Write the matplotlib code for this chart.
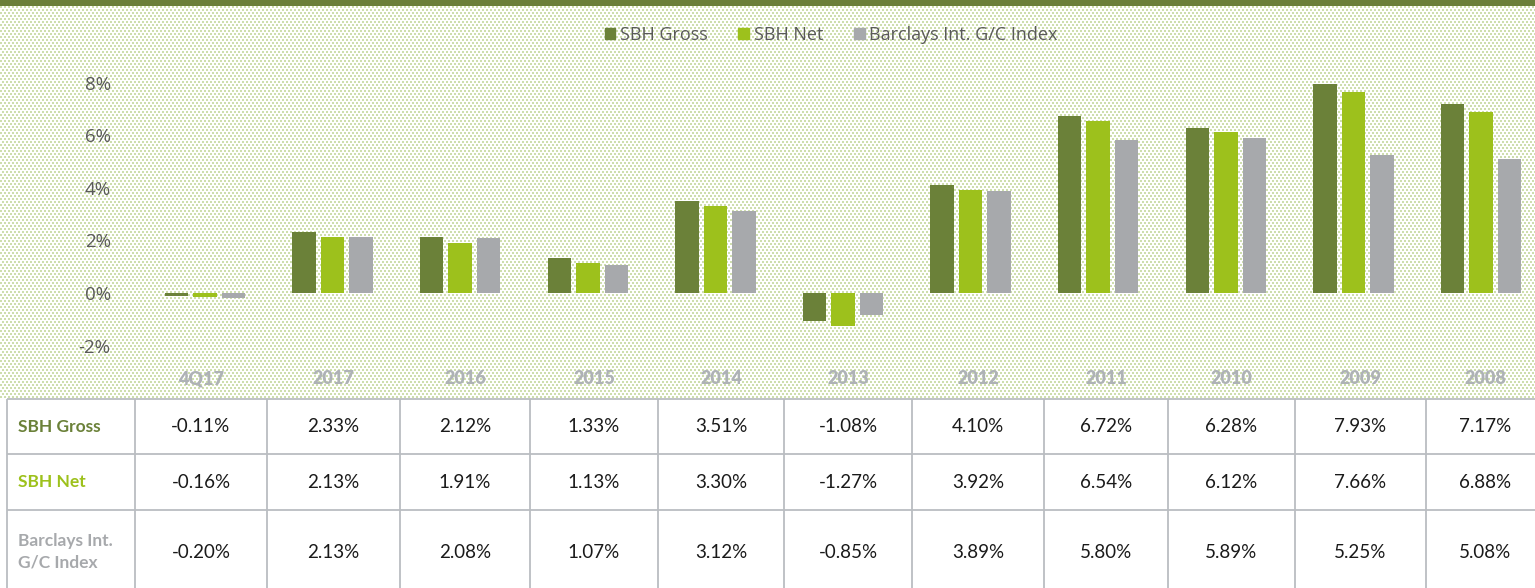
import numpy as np
import matplotlib
matplotlib.use("Agg")
import matplotlib.pyplot as plt
from matplotlib.patches import Rectangle, Patch

# ---------------- data ----------------
categories = ["4Q17", "2017", "2016", "2015", "2014", "2013", "2012", "2011", "2010", "2009", "2008"]
sbh_gross = [-0.11, 2.33, 2.12, 1.33, 3.51, -1.08, 4.10, 6.72, 6.28, 7.93, 7.17]
sbh_net = [-0.16, 2.13, 1.91, 1.13, 3.30, -1.27, 3.92, 6.54, 6.12, 7.66, 6.88]
barclays = [-0.20, 2.13, 2.08, 1.07, 3.12, -0.85, 3.89, 5.80, 5.89, 5.25, 5.08]
series_names = ["SBH Gross", "SBH Net", "Barclays Int. G/C Index"]
row_labels = ["SBH Gross", "SBH Net", "Barclays Int.\nG/C Index"]
yticks = [-2, 0, 2, 4, 6, 8]

# ---------------- style ----------------
C_GROSS = "#6b8139"
C_NET = "#9dc11c"
C_IDX = "#a7a9ac"
C_TEXT = "#595959"
C_GRID = "#babdc1"

W, H = 1535, 588
DPI = 100
fig = plt.figure(figsize=(W / DPI, H / DPI), dpi=DPI)
fig.patch.set_facecolor("white")

# dotted background (texture)
yy, xx = np.mgrid[0:H, 0:W]
ym = yy % 6
xm = xx % 4
dots = ((ym < 2) & (xm < 2)) | (((ym == 3) | (ym == 4)) & (xm >= 2))
img = np.ones((H, W, 3))
dot_col = np.array([206, 222, 174]) / 255.0
img[dots] = dot_col
img[398:, :, :] = 1.0        # table area is white
img[:6, :, :] = np.array([0x6b, 0x7f, 0x3a]) / 255.0  # top band
fig.figimage(img, xo=0, yo=0, origin="upper", zorder=0)

# overlay axes in pixel coordinates for table & labels
ov = fig.add_axes([0, 0, 1, 1], zorder=1)
ov.set_xlim(0, W)
ov.set_ylim(H, 0)
ov.axis("off")
ov.patch.set_alpha(0)

# ---------------- chart ----------------
zero_px = 293.0
px_per_pct = 26.3
ymin, ymax = -3.0, 9.0
top_px = zero_px - ymax * px_per_pct
bot_px = zero_px - ymin * px_per_pct
group_c0 = 205.0
group_step = 127.6
left_px = group_c0 - 0.5 * group_step
xmax_data = (W - group_c0) / group_step

ax = fig.add_axes([left_px / W, 1 - bot_px / H, (W - left_px) / W, (bot_px - top_px) / H], zorder=2)
ax.patch.set_alpha(0)
x = np.arange(len(categories))
bw = 23.5 / group_step
off = 28.5 / group_step
ax.bar(x - off, sbh_gross, width=bw, color=C_GROSS, label=series_names[0])
ax.bar(x, sbh_net, width=bw, color=C_NET, label=series_names[1])
ax.bar(x + off, barclays, width=bw, color=C_IDX, label=series_names[2])
ax.set_xlim(-0.5, xmax_data)
ax.set_ylim(ymin, ymax)
ax.set_yticks(yticks)
ax.set_yticklabels([f"{t}%" for t in yticks], fontfamily="Open Sans", fontsize=13.5, color=C_TEXT)
ax.tick_params(axis="y", length=0, pad=22)
ax.set_xticks([])
for s in ax.spines.values():
    s.set_visible(False)

handles = [Patch(color=C_GROSS), Patch(color=C_NET), Patch(color=C_IDX)]
leg = fig.legend(handles, series_names, loc="center", bbox_to_anchor=(831 / W, 1 - 35 / H),
                 ncol=3, frameon=False, handlelength=0.6, handleheight=0.6, handletextpad=0.25,
                 columnspacing=1.7, prop={"family": "Open Sans", "size": 13})
for t in leg.get_texts():
    t.set_color(C_TEXT)

# ---------------- table ----------------
col_edges = [7, 135, 267, 400, 530, 658, 784, 912, 1044, 1168, 1295, 1426, 1545]
row_edges = [399, 454, 510, 600]
label_cols = [(col_edges[i + 1] + col_edges[i + 2]) / 2 for i in range(len(categories))]

ov.add_patch(Rectangle((col_edges[0], row_edges[0]), W, H, facecolor="white", edgecolor="none", zorder=1))
for xe in col_edges:
    ov.plot([xe, xe], [row_edges[0], H + 5], color=C_GRID, lw=1.3, zorder=2, solid_capstyle="butt")
for ye in row_edges[:3]:
    ov.plot([col_edges[0], W + 5], [ye, ye], color=C_GRID, lw=1.3, zorder=2, solid_capstyle="butt")

# year labels above table
for cx, cat in zip(label_cols, categories):
    ov.text(cx, 379, cat, ha="center", va="center", fontfamily="Lato", fontweight="heavy",
            fontsize=13, color="#aeb2b6", zorder=3)

rows = [sbh_gross, sbh_net, barclays]
row_colors = [C_GROSS, C_NET, C_IDX]
row_centers = [426.5, 482, 552]
for ri, (vals, lab, rc, yc) in enumerate(zip(rows, row_labels, row_colors, row_centers)):
    ov.text(18, yc, lab, ha="left", va="center", fontfamily="Lato", fontweight="bold",
            fontsize=12.5, color=rc, linespacing=1.4, zorder=3)
    for cx, v in zip(label_cols, vals):
        ov.text(cx, yc, f"{v:.2f}%", ha="center", va="center", fontfamily="Lato",
                fontsize=13.5, color="#1a1a1a", zorder=3)

fig.savefig("out.png", dpi=DPI)
